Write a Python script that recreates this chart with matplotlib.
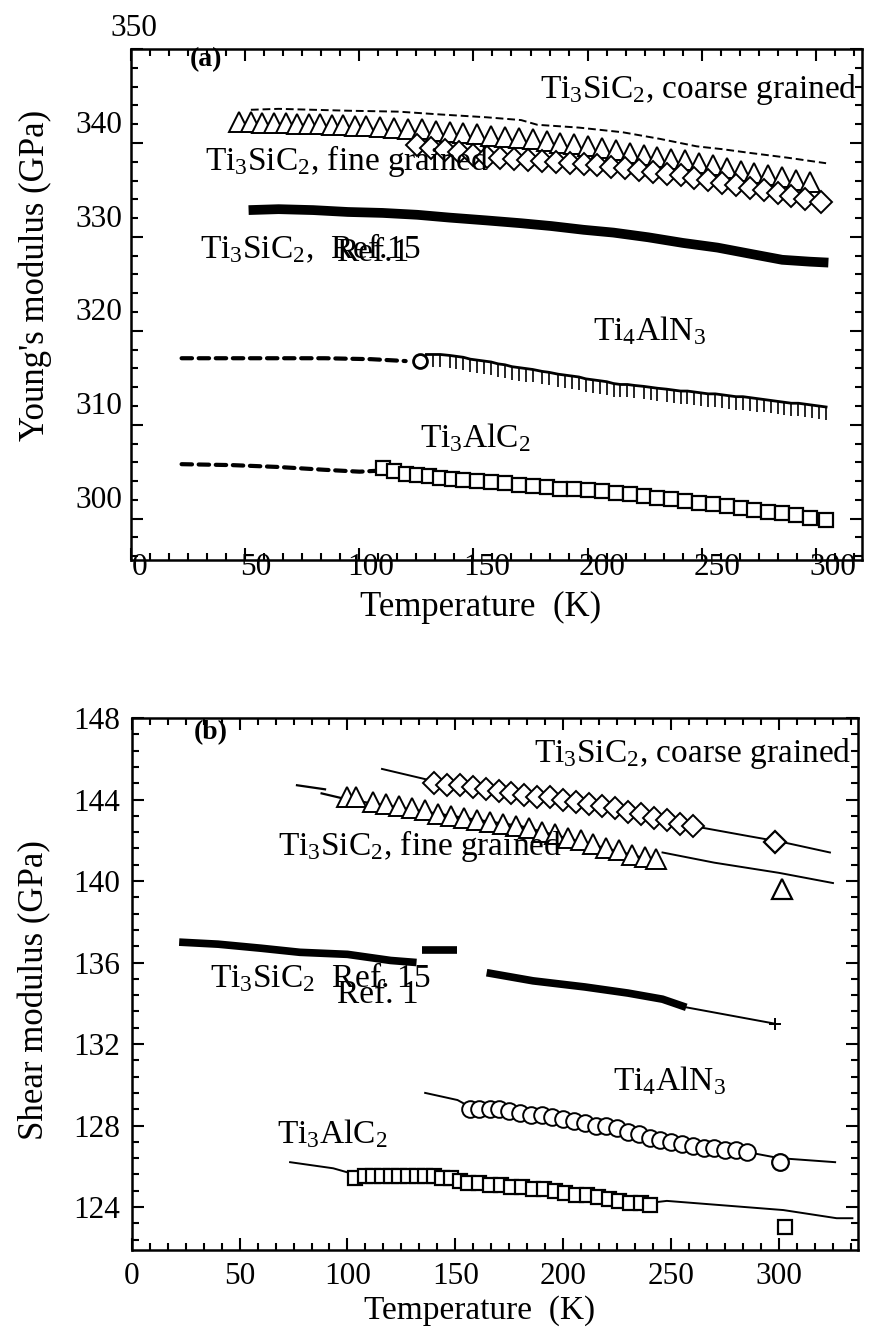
import matplotlib
matplotlib.use('Agg')
import matplotlib.pyplot as plt
from matplotlib.ticker import MultipleLocator, AutoMinorLocator

plt.rcParams.update({
    'font.family': ['Liberation Serif', 'DejaVu Serif'],
    'mathtext.fontset': 'custom',
    'mathtext.rm': 'Liberation Serif',
    'mathtext.it': 'Liberation Serif:italic',
    'mathtext.bf': 'Liberation Serif:bold',
})

# ---------------- panel (a): Young's modulus ----------------
a_coarse_T = [48, 60, 75, 90, 112, 130, 150, 165, 172, 190, 209, 225, 241, 252, 264, 280, 297]
a_coarse_E = [341.3, 341.4, 341.3, 341.2, 341.1, 340.8, 340.5, 340.2, 339.7, 339.4, 338.9, 338.2,
              337.4, 337.1, 336.7, 336.2, 335.6]

a_fine_T = [43, 48, 53, 58, 63, 68, 73, 78, 83, 88, 93, 98, 104, 110, 116, 122, 128, 134, 140, 146,
            152, 158, 164, 170, 176, 182, 188, 194, 200, 206, 212, 218, 224, 230, 236, 242, 248, 254,
            260, 266, 272, 278, 284, 290]
a_fine_E = [340.0, 340.0, 339.9, 339.9, 339.9, 339.8, 339.8, 339.8, 339.7, 339.7, 339.6, 339.6, 339.5,
            339.4, 339.3, 339.2, 339.0, 338.9, 338.8, 338.7, 338.5, 338.4, 338.3, 338.2, 338.0, 337.8,
            337.6, 337.4, 337.2, 337.0, 336.7, 336.5, 336.3, 336.1, 335.9, 335.6, 335.4, 335.1, 334.8,
            334.6, 334.3, 334.1, 333.8, 333.6]

a_diam_T = [120, 126, 132, 138, 144, 150, 156, 162, 168, 174, 180, 186, 192, 198, 204, 210, 216, 222,
            228, 234, 240, 246, 252, 258, 264, 270, 276, 282, 288, 295]
a_diam_E = [337.5, 337.2, 337.0, 336.8, 336.5, 336.3, 336.2, 336.0, 335.9, 335.8, 335.7, 335.6, 335.5,
            335.4, 335.2, 335.1, 334.9, 334.7, 334.5, 334.3, 334.0, 333.8, 333.5, 333.3, 333.0, 332.7,
            332.4, 332.1, 331.8, 331.5]

a_ref15_T = [47, 60, 75, 90, 105, 120, 134, 150, 165, 178, 192, 205, 220, 235, 250, 265, 278, 290, 298]
a_ref15_E = [330.6, 330.7, 330.6, 330.4, 330.3, 330.1, 329.8, 329.5, 329.2, 328.9, 328.5, 328.2, 327.7,
             327.1, 326.6, 325.9, 325.3, 325.1, 325.0]

a_413low_T = [18, 40, 60, 80, 100, 115]
a_413low_E = [314.8, 314.8, 314.8, 314.8, 314.7, 314.5]
a_413_T = [124, 127, 130, 134, 137, 140, 143, 146, 149, 152, 155, 158, 161, 164, 167, 170, 174, 177,
           181, 184, 187, 190, 193, 196, 199, 202, 205, 208, 211, 214, 218, 221, 224, 228, 231, 234,
           237, 240, 243, 246, 249, 252, 255, 258, 261, 264, 267, 270, 273, 276, 279, 282, 285, 288,
           291, 294, 297]
a_413_E = [315.2, 315.2, 315.2, 315.1, 315.0, 314.9, 314.7, 314.6, 314.5, 314.4, 314.2, 314.1, 313.9,
           313.8, 313.7, 313.6, 313.4, 313.3, 313.1, 313.0, 312.9, 312.8, 312.6, 312.5, 312.4, 312.3,
           312.1, 312.0, 312.0, 311.9, 311.8, 311.7, 311.6, 311.5, 311.4, 311.3, 311.3, 311.2, 311.1,
           311.0, 311.0, 310.9, 310.8, 310.7, 310.7, 310.6, 310.5, 310.4, 310.3, 310.2, 310.1, 310.0,
           310.0, 309.9, 309.8, 309.7, 309.6]
a_413_circ_T = [121]
a_413_circ_E = [314.5]

a_312low_T = [18, 40, 60, 80, 95, 103]
a_312low_E = [303.5, 303.4, 303.2, 302.9, 302.7, 302.8]
a_312_T = [105, 110, 115, 120, 125, 130, 135, 140, 146, 152, 158, 164, 170, 176, 182, 188, 194, 200,
           206, 212, 218, 224, 230, 236, 242, 248, 254, 260, 266, 272, 278, 284, 290, 297]
a_312_E = [303.1, 302.8, 302.5, 302.3, 302.2, 302.0, 301.9, 301.8, 301.7, 301.6, 301.5, 301.3, 301.2,
           301.1, 300.9, 300.8, 300.7, 300.6, 300.4, 300.3, 300.1, 299.9, 299.8, 299.6, 299.4, 299.2,
           299.0, 298.8, 298.6, 298.4, 298.3, 298.1, 297.8, 297.5]

a_xticks = [0, 50, 100, 150, 200, 250, 300]
a_yticks = [300, 310, 320, 330, 340]
a_top_label = '350'

# ---------------- panel (b): shear modulus ----------------
b_coarse_line_T = [116, 140, 150, 170, 194, 215, 240, 260, 286, 302, 323.6]
b_coarse_line_G = [145.5, 144.9, 144.7, 144.5, 144.1, 143.8, 143.3, 142.7, 142.2, 141.9, 141.4]
b_coarse_T = [140, 146, 152, 158, 164, 170, 176, 182, 188, 194, 200, 206, 212, 218, 224, 230, 236,
              242, 248, 254, 260]
b_coarse_G = [144.8, 144.7, 144.7, 144.6, 144.5, 144.4, 144.3, 144.2, 144.1, 144.1, 144.0, 143.9,
              143.8, 143.7, 143.6, 143.4, 143.3, 143.1, 143.0, 142.8, 142.7]
b_coarse_iso_T = [298]
b_coarse_iso_G = [141.9]

b_fine_seg_T = [76.6, 89.6]
b_fine_seg_G = [144.7, 144.5]
b_fine_line_T = [88, 100, 130, 160, 180, 209, 242]
b_fine_line_G = [144.3, 144.0, 143.5, 143.0, 142.7, 141.9, 141.0]
b_fine_line2_T = [246, 270, 300, 325]
b_fine_line2_G = [141.4, 140.9, 140.4, 139.9]
b_fine_T = [100, 104, 112, 118, 124, 130, 136, 142, 148, 154, 160, 166, 172, 178, 184, 190, 196, 202,
            208, 214, 220, 226, 232, 238, 243]
b_fine_G = [144.1, 144.1, 143.9, 143.8, 143.7, 143.6, 143.5, 143.3, 143.2, 143.1, 143.0, 142.9, 142.8,
            142.7, 142.6, 142.4, 142.3, 142.1, 142.0, 141.8, 141.6, 141.5, 141.3, 141.2, 141.1]
b_fine_iso_T = [301.4]
b_fine_iso_G = [139.6]

b_ref15_1_T = [22, 40, 60, 78, 100, 120, 132]
b_ref15_1_G = [137.0, 136.9, 136.7, 136.5, 136.4, 136.1, 136.0]
b_ref15_2_T = [134.5, 150.7]
b_ref15_2_G = [136.6, 136.6]
b_ref15_3_T = [164.5, 186, 210, 230, 246, 257]
b_ref15_3_G = [135.5, 135.1, 134.8, 134.5, 134.2, 133.8]
b_ref15_tail_T = [257, 298]
b_ref15_tail_G = [133.8, 133.0]

b_413_line_T = [136, 151, 157, 194, 225, 255, 285, 300, 326]
b_413_line_G = [129.6, 129.25, 128.9, 128.4, 127.9, 127.1, 126.7, 126.4, 126.2]
b_413_T = [157, 161, 166, 170, 175, 180, 185, 190, 195, 200, 205, 210, 215, 220, 225, 230, 235, 240,
           245, 250, 255, 260, 265, 270, 275, 280, 285]
b_413_G = [128.8, 128.8, 128.8, 128.8, 128.7, 128.6, 128.5, 128.5, 128.4, 128.3, 128.2, 128.1, 128.0,
           128.0, 127.9, 127.7, 127.6, 127.4, 127.3, 127.2, 127.1, 127.0, 126.9, 126.9, 126.8, 126.8,
           126.7]
b_413_iso_T = [300.5]
b_413_iso_G = [126.2]

b_312_line_T = [73.4, 93.4, 100, 147.5, 194, 240, 248, 302, 326.7, 334]
b_312_line_G = [126.2, 125.9, 125.7, 125.5, 124.9, 124.2, 124.3, 123.85, 123.45, 123.45]
b_312_T = [103.5, 108, 112, 116, 120, 124, 128, 132, 136, 140, 144, 148, 152, 156, 161, 166, 171, 176,
           181, 186, 191, 196, 201, 206, 211, 216, 221, 226, 231, 236, 240]
b_312_G = [125.4, 125.5, 125.5, 125.5, 125.5, 125.5, 125.5, 125.5, 125.5, 125.5, 125.4, 125.4, 125.3,
           125.2, 125.2, 125.1, 125.1, 125.0, 125.0, 124.9, 124.9, 124.8, 124.7, 124.6, 124.6, 124.5,
           124.4, 124.3, 124.2, 124.2, 124.1]
b_312_iso_T = [302.7]
b_312_iso_G = [123.0]

b_xticks = [0, 50, 100, 150, 200, 250, 300]
b_yticks = [124, 128, 132, 136, 140, 144, 148]

# ---------------- figure ----------------
W, H = 872, 1336
fig = plt.figure(figsize=(W / 100, H / 100), dpi=100)

def frac(l, r, b, t):
    return [l / W, (H - b) / H, (r - l) / W, (b - t) / H]

TICK = 22.5
TXT = 24
LAB = 25
SPW = 1.8

# frame of panel (a) (tick marks only)
axA = fig.add_axes(frac(131, 862, 560, 49))
axA.set_xlim(0, 320.2)
axA.set_ylim(295.6, 350)
axA.xaxis.set_major_locator(MultipleLocator(50))
axA.xaxis.set_minor_locator(AutoMinorLocator(6))
axA.yaxis.set_major_locator(MultipleLocator(10))
axA.yaxis.set_minor_locator(AutoMinorLocator(5))
axA.tick_params(which='both', direction='in', top=True, right=True,
                labelbottom=False, labelleft=False, width=1.5)
axA.tick_params(which='major', length=8.5)
axA.tick_params(which='minor', length=5)
for s in axA.spines.values():
    s.set_linewidth(SPW)
axA.set_xlabel('Temperature  (K)', fontsize=LAB, va='center')
axA.xaxis.set_label_coords((481 - 131) / 731, (560 - 607) / 511)
axA.set_ylabel("Young's modulus (GPa)", fontsize=LAB, va='center')
axA.yaxis.set_label_coords((35 - 131) / 731, (560 - 275) / 511)

# data and number labels of panel (a)
ax = fig.add_axes(frac(131, 862, 560, 25.4))
ax.patch.set_visible(False)
for s in ax.spines.values():
    s.set_visible(False)
ax.set_xlim(-3.9, 312.55)
ax.set_ylim(293.28, 350.3)
ax.set_xticks(a_xticks)
ax.set_yticks(a_yticks)
ax.tick_params(length=0, labelsize=TICK)
ax.tick_params(axis='x', pad=-5)
ax.tick_params(axis='y', pad=6.5)
ax.text(-2.6, 350.0, a_top_label, fontsize=TICK, ha='center', va='center', clip_on=False)

ax.plot(a_coarse_T, a_coarse_E, color='black', lw=1.4, ls=(0, (4, 2)))
ax.plot(a_fine_T, a_fine_E, ls='none', marker='^', ms=14, mfc='white', mec='black', mew=1.4)
ax.plot(a_diam_T, a_diam_E, ls='none', marker='D', ms=11, mfc='white', mec='black', mew=1.4)
ax.plot(a_ref15_T, a_ref15_E, color='black', lw=7, solid_capstyle='butt')
ax.plot(a_413low_T, a_413low_E, color='black', lw=3, ls=(0, (2.5, 1.6)), dash_capstyle='round')
ax.plot(a_413_T, a_413_E, color='black', lw=2, marker=3, ms=9, mew=1.2)
ax.plot(a_413_circ_T, a_413_circ_E, ls='none', marker='o', ms=10, mfc='white', mec='black', mew=2)
ax.plot(a_312low_T, a_312low_E, color='black', lw=3, ls=(0, (2.5, 1.6)), dash_capstyle='round')
ax.plot(a_312_T, a_312_E, ls='none', marker='s', ms=10.5, mfc='white', mec='black', mew=1.6)

ax.text(28.6, 346.6, '(a)', fontsize=20, fontweight='bold', ha='center', va='center')
ax.text(310.4, 342.56, 'Ti$_3$SiC$_2$, coarse grained', fontsize=TXT, ha='right', va='baseline')
ax.text(28.1, 334.9, 'Ti$_3$SiC$_2$, fine grained', fontsize=TXT, ha='left', va='baseline')
ax.text(26.0, 325.5, 'Ti$_3$SiC$_2$,  Ref.15', fontsize=TXT, ha='left', va='baseline')
ax.text(85.0, 325.2, 'Ref.1', fontsize=TXT, ha='left', va='baseline')
ax.text(196.0, 316.7, 'Ti$_4$AlN$_3$', fontsize=TXT, ha='left', va='baseline')
ax.text(121.0, 305.3, 'Ti$_3$AlC$_2$', fontsize=TXT, ha='left', va='baseline')

# ---------------- panel (b) ----------------
bx = fig.add_axes(frac(131.7, 858, 1250, 718))
bx.set_xlim(0, 336.6)
bx.set_ylim(121.89, 148)
bx.set_xticks(b_xticks)
bx.set_yticks(b_yticks)
bx.xaxis.set_minor_locator(AutoMinorLocator(6))
bx.yaxis.set_minor_locator(AutoMinorLocator(5))
bx.tick_params(which='both', direction='in', top=True, right=True, width=1.5, labelsize=TICK)
bx.tick_params(which='major', length=8.5)
bx.tick_params(which='minor', length=5)
bx.tick_params(axis='x', pad=9)
bx.tick_params(axis='y', pad=8)
for s in bx.spines.values():
    s.set_linewidth(SPW)
bx.set_xlabel('Temperature  (K)', fontsize=24, va='center')
bx.xaxis.set_label_coords((480 - 131.7) / 726.3, (1250 - 1311) / 532)
bx.set_ylabel('Shear modulus (GPa)', fontsize=LAB, va='center')
bx.yaxis.set_label_coords((35 - 131.7) / 726.3, (1250 - 990) / 532)

bx.plot(b_coarse_line_T, b_coarse_line_G, color='black', lw=1.4)
bx.plot(b_coarse_T, b_coarse_G, ls='none', marker='D', ms=11, mfc='white', mec='black', mew=1.4)
bx.plot(b_coarse_iso_T, b_coarse_iso_G, ls='none', marker='D', ms=11, mfc='white', mec='black', mew=1.6)

bx.plot(b_fine_seg_T, b_fine_seg_G, color='black', lw=1.6)
bx.plot(b_fine_line_T, b_fine_line_G, color='black', lw=1.6)
bx.plot(b_fine_line2_T, b_fine_line2_G, color='black', lw=1.4)
bx.plot(b_fine_T, b_fine_G, ls='none', marker='^', ms=14, mfc='white', mec='black', mew=1.4)
bx.plot(b_fine_iso_T, b_fine_iso_G, ls='none', marker='^', ms=14, mfc='white', mec='black', mew=1.6)

bx.plot(b_ref15_1_T, b_ref15_1_G, color='black', lw=5.5, solid_capstyle='butt')
bx.plot(b_ref15_2_T, b_ref15_2_G, color='black', lw=5.5, solid_capstyle='butt')
bx.plot(b_ref15_3_T, b_ref15_3_G, color='black', lw=5.5, solid_capstyle='butt')
bx.plot(b_ref15_tail_T, b_ref15_tail_G, color='black', lw=1.4)
bx.plot(b_ref15_tail_T[-1:], b_ref15_tail_G[-1:], ls='none', marker='+', ms=8, mec='black', mew=1.4)

bx.plot(b_413_line_T, b_413_line_G, color='black', lw=1.4)
bx.plot(b_413_T, b_413_G, ls='none', marker='o', ms=12, mfc='white', mec='black', mew=1.4)
bx.plot(b_413_iso_T, b_413_iso_G, ls='none', marker='o', ms=12, mfc='white', mec='black', mew=1.6)

bx.plot(b_312_line_T, b_312_line_G, color='black', lw=1.4)
bx.plot(b_312_T, b_312_G, ls='none', marker='s', ms=10.5, mfc='white', mec='black', mew=1.6)
bx.plot(b_312_iso_T, b_312_iso_G, ls='none', marker='s', ms=10.5, mfc='white', mec='black', mew=1.6)

bx.text(36.7, 147.26, '(b)', fontsize=20, fontweight='bold', ha='center', va='center')
bx.text(333.7, 145.84, 'Ti$_3$SiC$_2$, coarse grained', fontsize=TXT, ha='right', va='baseline')
bx.text(67.8, 141.28, 'Ti$_3$SiC$_2$, fine grained', fontsize=TXT, ha='left', va='baseline')
bx.text(36.3, 134.8, 'Ti$_3$SiC$_2$  Ref. 15', fontsize=TXT, ha='left', va='baseline')
bx.text(95.1, 134.0, 'Ref. 1', fontsize=TXT, ha='left', va='baseline')
bx.text(223.0, 129.74, 'Ti$_4$AlN$_3$', fontsize=TXT, ha='left', va='baseline')
bx.text(67.3, 127.14, 'Ti$_3$AlC$_2$', fontsize=TXT, ha='left', va='baseline')

fig.savefig('out.png', dpi=100)
